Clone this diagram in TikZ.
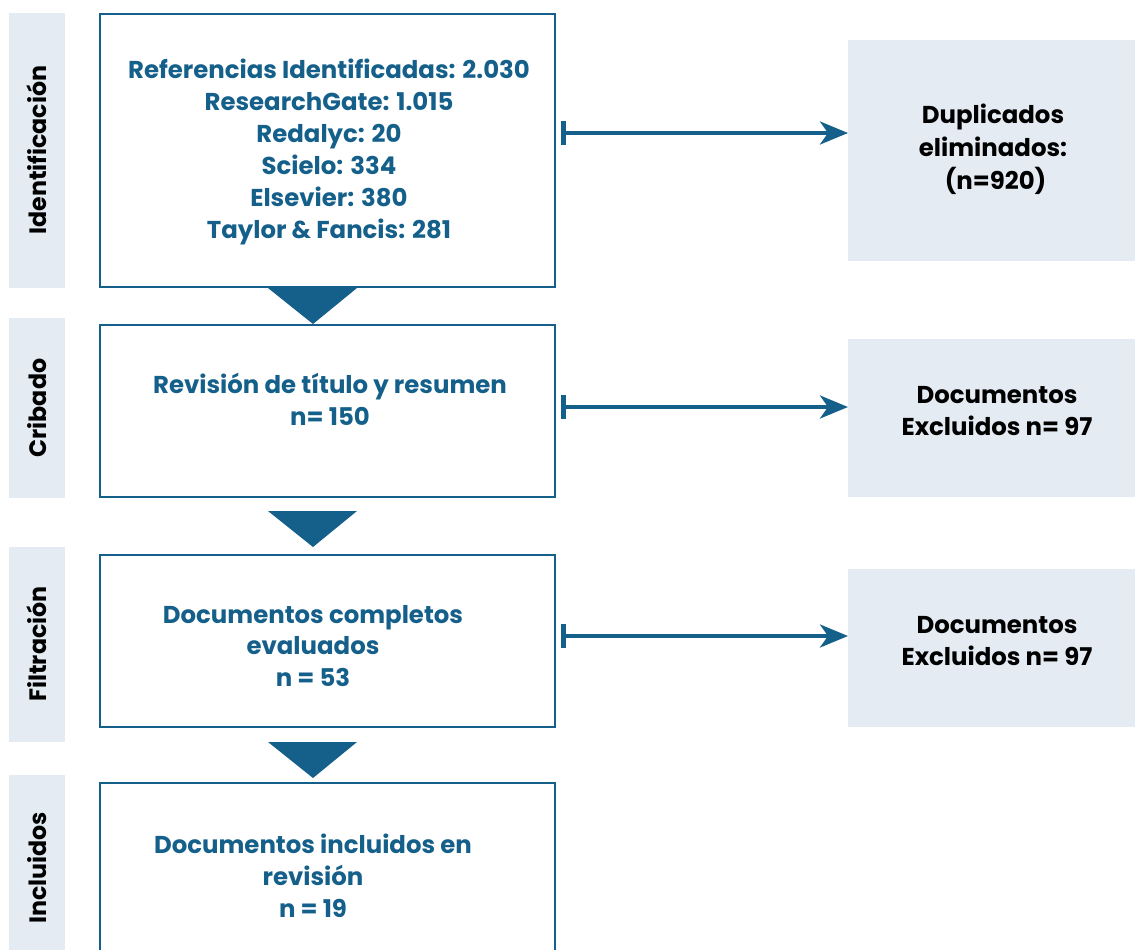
\documentclass[tikz,border=0pt]{standalone}
\usepackage{fontspec}
\setmainfont{Poppins}
\usetikzlibrary{arrows.meta}
\definecolor{flowblue}{HTML}{15608A}
\definecolor{panel}{HTML}{E4EBF2}
\begin{document}
\begin{tikzpicture}[x=1bp,y=-1bp,
  stage/.style={fill=panel,draw=none},
  mainbox/.style={draw=flowblue,line width=2.2bp,fill=white},
  sidebox/.style={fill=panel,draw=none},
  maintext/.style={text=flowblue,font=\bfseries\fontsize{24.5}{32}\selectfont,align=center},
  sidetext/.style={text=black,font=\bfseries\fontsize{24.5}{33}\selectfont,align=center},
  stagetext/.style={text=black,font=\bfseries\fontsize{23.8}{26}\selectfont,rotate=90},
  down/.style={fill=flowblue,draw=none},
  link/.style={draw=flowblue,line width=3.8bp,
    {Bar[width=24bp,line width=5bp]}-{Stealth[length=28bp,width=23bp,inset=8bp]}}
]
\useasboundingbox (0,0) rectangle (1135,950);

% stage labels on the left
\fill[stage] (9,13) rectangle (65,288);
\fill[stage] (9,318) rectangle (65,498);
\fill[stage] (9,547) rectangle (65,742);
\fill[stage] (9,775) rectangle (65,950);
\node[stagetext] (s1) at (37,150) {Identificación};
\node[stagetext] (s2) at (37,408) {Cribado};
\node[stagetext] (s3) at (37,644) {Filtración};
\node[stagetext] (s4) at (37,868) {Incluidos};

% main column
\draw[mainbox] (100,14) rectangle (555,287);
\draw[mainbox] (100,325) rectangle (555,497);
\draw[mainbox] (100,555) rectangle (555,727);
\draw[mainbox] (100,783) rectangle (555,960);

\node[maintext] (m1) at (329,152) {Referencias Identificadas: 2.030\\ResearchGate: 1.015\\Redalyc: 20\\Scielo: 334\\Elsevier: 380\\Taylor \& Fancis: 281};
\node[maintext] (m2) at (330,399) {Revisión de título y resumen\\n= 150};
\node[maintext] (m3) at (313,646) {Documentos completos\\evaluados\\n = 53};
\node[maintext] (m4) at (313,876) {Documentos incluidos en\\revisión\\n = 19};

% downward triangles between stages
\fill[down] (268,288) -- (357,288) -- (313,324) -- cycle;
\fill[down] (268,511) -- (357,511) -- (313,547) -- cycle;
\fill[down] (268,742) -- (357,742) -- (313,778) -- cycle;

% right column
\fill[sidebox] (848,40) rectangle (1135,261);
\fill[sidebox] (848,339) rectangle (1135,497);
\fill[sidebox] (848,569) rectangle (1135,727);
\node[sidetext] (r1) at (993,149) {Duplicados\\eliminados:\\\ (n=920)};
\node[sidetext] (r2) at (997,411) {Documentos\\Excluidos n= 97};
\node[sidetext] (r3) at (997,641) {Documentos\\Excluidos n= 97};

% exclusion arrows
\coordinate (a1s) at (561,133); \coordinate (a1e) at (848,133);
\coordinate (a2s) at (561,407); \coordinate (a2e) at (848,407);
\coordinate (a3s) at (561,636); \coordinate (a3e) at (848,636);
\draw[link] (a1s) -- (a1e);
\draw[link] (a2s) -- (a2e);
\draw[link] (a3s) -- (a3e);
\end{tikzpicture}
\end{document}
